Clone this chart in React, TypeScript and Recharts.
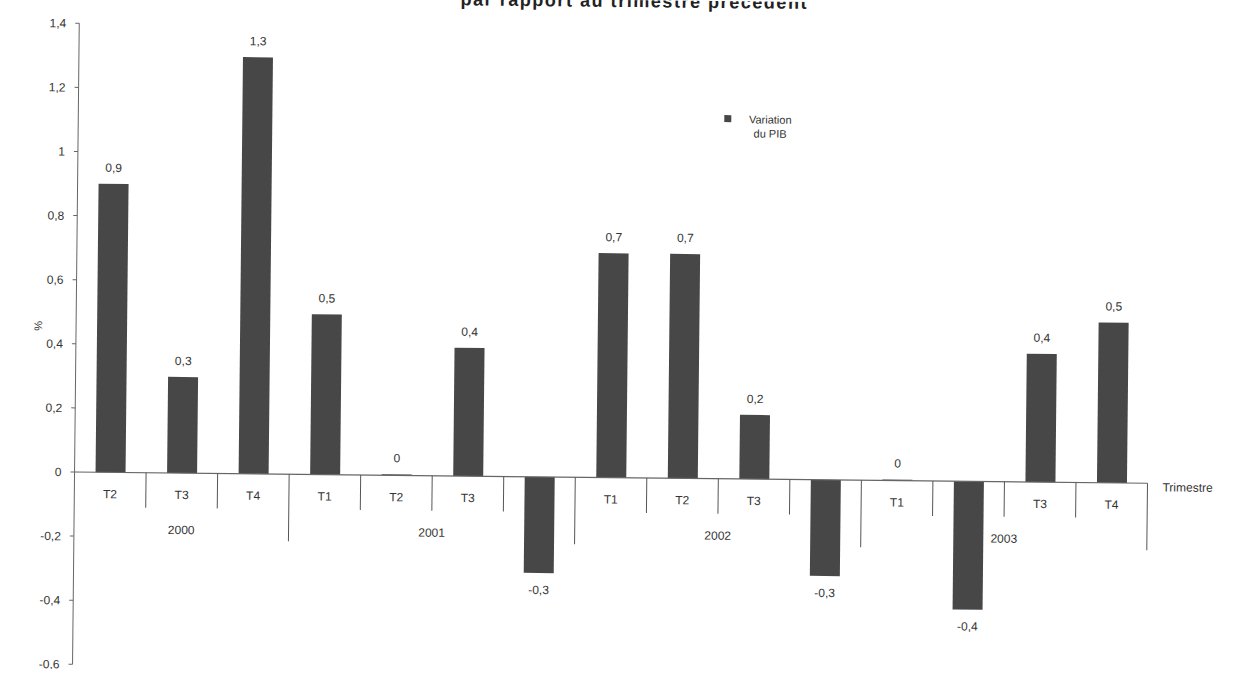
import React from "react";
import { BarChart, Bar, XAxis, YAxis, ReferenceLine, LabelList } from "recharts";

const quarters = ["T2", "T3", "T4", "T1", "T2", "T3", "T4", "T1", "T2", "T3", "T4", "T1", "T2", "T3", "T4"];
const years = ["2000", "2000", "2000", "2001", "2001", "2001", "2001", "2002", "2002", "2002", "2002", "2003", "2003", "2003", "2003"];
const variation = [0.9, 0.3, 1.3, 0.5, 0, 0.4, -0.3, 0.7, 0.7, 0.2, -0.3, 0, -0.4, 0.4, 0.5];
const yTicks = [-0.6, -0.4, -0.2, 0, 0.2, 0.4, 0.6, 0.8, 1, 1.2, 1.4];

const data = quarters.map((q, i) => ({
  key: String(i),
  quarter: q,
  year: years[i],
  value: variation[i],
}));

const W = 1239;
const H = 675;
const Y_AXIS_W = 76;
const X_AXIS_H = 2;
const M = { top: 29, right: 90, bottom: 3, left: 0 };
const PLOT_W = W - Y_AXIS_W - M.right;
const PLOT_H = H - M.top - M.bottom - X_AXIS_H;
const BAND = PLOT_W / data.length;
const Y_MIN = -0.6;
const Y_MAX = 1.4;
const ZERO_Y = M.top + (Y_MAX / (Y_MAX - Y_MIN)) * PLOT_H;

const FONT = "'Liberation Sans', Arial, sans-serif";
const INK = "#333";

const fmt = (v: number) => String(Number(v.toFixed(1))).replace(".", ",");

function CategoryTick(props: any) {
  const { x, index } = props;
  const d = data[index];
  if (!d) return null;
  const left = x - BAND / 2;
  const first = years.indexOf(d.year);
  const isFirst = first === index;
  const count = years.filter((y) => y === d.year).length;
  const yearX = left + (count * BAND) / 2;
  const covered = d.value < -0.05;
  const last = index === data.length - 1;
  return (
    <g>
      {index > 0 && (
        <line
          x1={left}
          x2={left}
          y1={ZERO_Y}
          y2={ZERO_Y + (d.quarter === "T1" ? 67 : 35)}
          stroke="#555"
          strokeWidth={1}
        />
      )}
      {last && (
        <line x1={left + BAND} x2={left + BAND} y1={ZERO_Y} y2={ZERO_Y + 67} stroke="#555" strokeWidth={1} />
      )}
      {!covered && (
        <text x={x} y={ZERO_Y + 22} textAnchor="middle" dominantBaseline="central" fontSize={12} fill={INK} fontFamily={FONT}>
          {d.quarter}
        </text>
      )}
      {isFirst && (
        <text x={yearX} y={ZERO_Y + 57} textAnchor="middle" dominantBaseline="central" fontSize={12} fill={INK} fontFamily={FONT}>
          {d.year}
        </text>
      )}
    </g>
  );
}

function ValueLabel(props: any) {
  const { x, y, width, height, value } = props;
  const top = Math.min(y, y + height);
  const bottom = Math.max(y, y + height);
  const neg = value < 0;
  return (
    <text
      x={x + width / 2}
      y={neg ? bottom + 17 : top - 16}
      textAnchor="middle"
      dominantBaseline="central"
      fontSize={12}
      fill={INK}
      fontFamily={FONT}
    >
      {fmt(value)}
    </text>
  );
}

export default function App() {
  return (
    <div style={{ position: "absolute", left: 0, top: 0, width: W, height: H, overflow: "hidden", background: "#fff" }}>
      <div style={{ position: "absolute", left: 0, top: 0, width: W, height: H, transform: "rotate(0.6deg)", transformOrigin: "620px 337px" }}>
        <BarChart width={W} height={H} data={data} margin={M} barSize={30}>
          <XAxis
            dataKey="key"
            height={X_AXIS_H}
            axisLine={false}
            tickLine={false}
            interval={0}
            tick={<CategoryTick />}
          />
          <YAxis
            width={Y_AXIS_W}
            domain={[Y_MIN, Y_MAX]}
            ticks={yTicks}
            interval={0}
            tickFormatter={fmt}
            tickSize={4}
            tickMargin={9}
            axisLine={{ stroke: "#666" }}
            tickLine={{ stroke: "#666" }}
            tick={{ fontSize: 12, fill: INK, fontFamily: FONT }}
          />
          <ReferenceLine y={0} stroke="#666" strokeWidth={1.2} />
          <Bar dataKey="value" fill="#474747" minPointSize={1} isAnimationActive={false}>
            <LabelList dataKey="value" content={<ValueLabel />} />
          </Bar>
        </BarChart>
        <svg width={W} height={H} style={{ position: "absolute", left: 0, top: 0, pointerEvents: "none" }}>
          <text x={630} y={7} textAnchor="middle" fontSize={18} fontWeight="bold" fill="#222" fontFamily={FONT} textLength={346} lengthAdjust="spacing">
            par rapport au trimestre précédent
          </text>
          <text x={38} y={332} transform="rotate(-90 38 332)" textAnchor="middle" dominantBaseline="central" fontSize={11} fill={INK} fontFamily={FONT}>
            %
          </text>
          <text x={1164} y={ZERO_Y + 4} dominantBaseline="central" fontSize={12} fill={INK} fontFamily={FONT}>
            Trimestre
          </text>
          <rect x={722} y={114} width={7} height={7} fill="#474747" />
          <text x={768} y={118} textAnchor="middle" dominantBaseline="central" fontSize={11} fill={INK} fontFamily={FONT}>
            Variation
          </text>
          <text x={768} y={132} textAnchor="middle" dominantBaseline="central" fontSize={11} fill={INK} fontFamily={FONT}>
            du PIB
          </text>
        </svg>
      </div>
    </div>
  );
}
